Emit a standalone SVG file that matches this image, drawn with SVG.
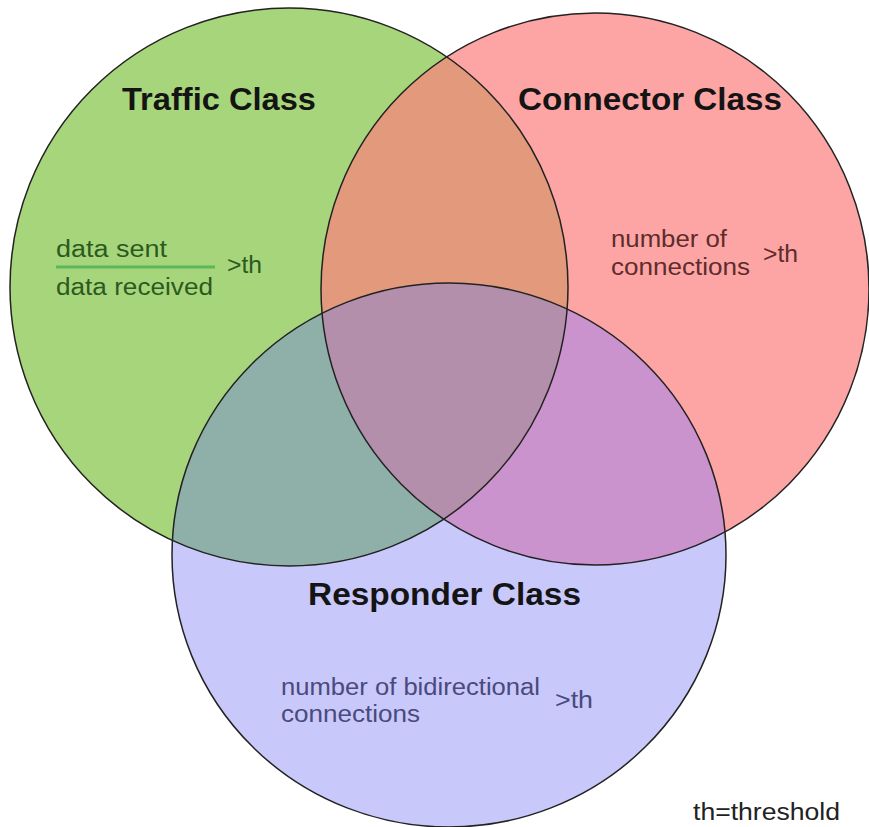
<svg xmlns="http://www.w3.org/2000/svg" width="869" height="827" viewBox="0 0 869 827">
<style>
.title{font-family:"Liberation Sans",Arial,sans-serif;font-weight:bold;font-size:31px;fill:#141414}
.lbl{font-family:"Liberation Sans",Arial,sans-serif;font-size:23px}
.tg{fill:#2c5a1e}
.tp{fill:#5e2c2c}
.tb{fill:#4a4a7c}
.outline{fill:none;stroke:#222;stroke-width:1.5}
</style>
<defs>
<clipPath id="clipG"><ellipse cx="289" cy="287" rx="279" ry="279"/></clipPath>
<clipPath id="clipP"><ellipse cx="595" cy="289" rx="274" ry="276"/></clipPath>
</defs>
<rect width="869" height="827" fill="#ffffff"/>
<g id="traffic-class">
<ellipse cx="289" cy="287" rx="279" ry="279" fill="#a7d57b"/>
</g>
<g id="connector-class">
<ellipse cx="595" cy="289" rx="274" ry="276" fill="#fca5a4"/>
</g>
<g id="responder-class">
<ellipse cx="449" cy="555" rx="277" ry="272" fill="#c9c8fb"/>
</g>
<g id="overlaps">
<ellipse cx="595" cy="289" rx="274" ry="276" fill="#e39a7c" clip-path="url(#clipG)"/>
<ellipse cx="449" cy="555" rx="277" ry="272" fill="#8fb0a8" clip-path="url(#clipG)"/>
<ellipse cx="449" cy="555" rx="277" ry="272" fill="#cb93cd" clip-path="url(#clipP)"/>
<g clip-path="url(#clipG)">
<ellipse cx="449" cy="555" rx="277" ry="272" fill="#b48fac" clip-path="url(#clipP)"/>
</g>
</g>
<g id="connectors">
<ellipse class="outline" cx="289" cy="287" rx="279" ry="279"/>
<ellipse class="outline" cx="595" cy="289" rx="274" ry="276"/>
<ellipse class="outline" cx="449" cy="555" rx="277" ry="272"/>
</g>
<g id="traffic-text">
<text class="title" x="122" y="110" textLength="194" lengthAdjust="spacingAndGlyphs">Traffic Class</text>
<text class="lbl tg" x="56" y="257" textLength="111" lengthAdjust="spacingAndGlyphs">data sent</text>
<line x1="56" y1="267" x2="215" y2="267" stroke="#5cb65a" stroke-width="3"/>
<text class="lbl tg" x="56" y="295" textLength="157" lengthAdjust="spacingAndGlyphs">data received</text>
<text class="lbl tg" x="227" y="273" textLength="35" lengthAdjust="spacingAndGlyphs">&gt;th</text>
</g>
<g id="connector-text">
<text class="title" x="518" y="110" textLength="264" lengthAdjust="spacingAndGlyphs">Connector Class</text>
<text class="lbl tp" x="611" y="247" textLength="116" lengthAdjust="spacingAndGlyphs">number of</text>
<text class="lbl tp" x="611" y="275" textLength="139" lengthAdjust="spacingAndGlyphs">connections</text>
<text class="lbl tp" x="763" y="262" textLength="35" lengthAdjust="spacingAndGlyphs">&gt;th</text>
</g>
<g id="responder-text">
<text class="title" x="308" y="605" textLength="273" lengthAdjust="spacingAndGlyphs">Responder Class</text>
<text class="lbl tb" x="281" y="695" textLength="259" lengthAdjust="spacingAndGlyphs">number of bidirectional</text>
<text class="lbl tb" x="281" y="722" textLength="139" lengthAdjust="spacingAndGlyphs">connections</text>
<text class="lbl tb" x="555" y="708" textLength="38" lengthAdjust="spacingAndGlyphs">&gt;th</text>
</g>
<g id="legend">
<text class="lbl" x="693" y="820" fill="#222" textLength="147" lengthAdjust="spacingAndGlyphs">th=threshold</text>
</g>
</svg>
